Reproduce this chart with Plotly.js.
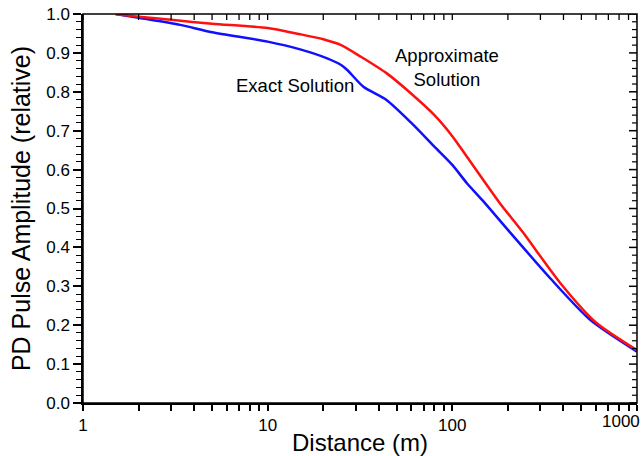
<!DOCTYPE html>
<html>
<head>
<meta charset="utf-8">
<script src="https://cdn.plot.ly/plotly-3.0.1.min.js"></script>
<style>html,body{margin:0;padding:0;background:#fff;}#chart{width:641px;height:456px;}</style>
</head>
<body>
<div id="chart"></div>
<script>
// Approximate solution (red)
var approxX = [1.5, 2, 3, 5, 10, 15, 20, 25, 32, 44, 60, 80, 100, 120, 180, 240, 385, 600, 1000];
var approxY = [1.0, 0.993, 0.985, 0.975, 0.964, 0.948, 0.935, 0.920, 0.890, 0.848, 0.795, 0.740, 0.686, 0.633, 0.515, 0.440, 0.308, 0.207, 0.136];
// Exact solution (blue)
var exactX = [1.5, 2, 3.36, 5, 10, 15, 21, 25, 27, 33, 44, 60, 80, 100, 120, 145, 200, 340, 560, 1000];
var exactY = [1.0, 0.990, 0.972, 0.953, 0.929, 0.909, 0.886, 0.869, 0.856, 0.813, 0.779, 0.720, 0.659, 0.612, 0.565, 0.522, 0.445, 0.320, 0.213, 0.132];

// x tick positions (decades labelled, intermediate values unlabelled)
var xTicks = [1,2,3,4,5,6,7,8,9,10,20,30,40,50,60,70,80,90,100,200,300,400,500,600,700,800,900,1000];
var xTickText = ['1','','','','','','','','','10','','','','','','','','','100','','','','','','','','',''];
var lastXLabel = '1000';   // drawn as annotation so it fits inside the page
// y ticks
var yMajorTicks = [0, 0.1, 0.2, 0.3, 0.4, 0.5, 0.6, 0.7, 0.8, 0.9, 1.0];
var yMinorTicks = [0.02,0.04,0.06,0.08, 0.12,0.14,0.16,0.18, 0.22,0.24,0.26,0.28, 0.32,0.34,0.36,0.38,
                   0.42,0.44,0.46,0.48, 0.52,0.54,0.56,0.58, 0.62,0.64,0.66,0.68, 0.72,0.74,0.76,0.78,
                   0.82,0.84,0.86,0.88, 0.92,0.94,0.96,0.98];

var FONT = 'Liberation Sans, Arial, Helvetica, sans-serif';

var traces = [
  {x: exactX, y: exactY, type: 'scatter', mode: 'lines', name: 'Exact Solution',
   line: {color: '#1010ff', width: 2.5, shape: 'spline', smoothing: 0.7}, hoverinfo: 'skip'},
  {x: approxX, y: approxY, type: 'scatter', mode: 'lines', name: 'Approximate Solution',
   line: {color: '#ff1010', width: 2.5, shape: 'spline', smoothing: 0.7}, hoverinfo: 'skip'}
];

// Frame (top / right edges) and inward ticks on the top and right edges
var shapes = [
  {type: 'rect', xref: 'paper', yref: 'paper', x0: 0, x1: 1, y0: 0, y1: 1,
   line: {color: '#000', width: 1.5}, layer: 'above'}
];
xTicks.forEach(function (v) {
  shapes.push({type: 'line', xref: 'x', yref: 'paper', x0: v, x1: v,
    ysizemode: 'pixel', yanchor: 1, y0: 0, y1: -6,
    line: {color: '#000', width: 1.3}, layer: 'above'});
});
yMajorTicks.forEach(function (v) {
  shapes.push({type: 'line', xref: 'paper', yref: 'y', y0: v, y1: v,
    xsizemode: 'pixel', xanchor: 1, x0: 0, x1: -8,
    line: {color: '#000', width: 1.5}, layer: 'above'});
});
yMinorTicks.forEach(function (v) {
  shapes.push({type: 'line', xref: 'paper', yref: 'y', y0: v, y1: v,
    xsizemode: 'pixel', xanchor: 1, x0: 0, x1: -5,
    line: {color: '#000', width: 1.2}, layer: 'above'});
});

var layout = {
  width: 641, height: 456,
  margin: {l: 83, r: 4, t: 14, b: 53},
  paper_bgcolor: '#fff', plot_bgcolor: '#fff',
  showlegend: false,
  font: {family: FONT, color: '#000', size: 17},
  xaxis: {
    type: 'log', range: [0, 3.0002],
    tickmode: 'array', tickvals: xTicks, ticktext: xTickText,
    showgrid: false, zeroline: false, showline: true, linecolor: '#000', linewidth: 1.5,
    ticks: 'outside', tickcolor: '#000', tickwidth: 1.5, ticklen: 6,
    tickfont: {family: FONT, size: 17, color: '#000'},
    title: {text: 'Distance (m)', font: {family: FONT, size: 24, color: '#000'}, standoff: 0}
  },
  yaxis: {
    range: [0, 1], dtick: 0.1, tick0: 0, tickformat: '.1f',
    showgrid: false, zeroline: false, showline: true, linecolor: '#000', linewidth: 1.5,
    ticks: 'outside', tickcolor: '#000', tickwidth: 1.5, ticklen: 8,
    minor: {dtick: 0.02, tick0: 0, ticks: 'outside', ticklen: 5, tickwidth: 1.2, tickcolor: '#000', showgrid: false},
    tickfont: {family: FONT, size: 17, color: '#000'},
    title: {text: 'PD Pulse Amplitude (relative)', font: {family: FONT, size: 25, color: '#000'}, standoff: 8}
  },
  shapes: shapes,
  annotations: [
    {xref: 'x', yref: 'y', x: 1.149, y: 0.815, text: 'Exact Solution', showarrow: false,
     font: {family: FONT, size: 18.5, color: '#000'}, xanchor: 'center', yanchor: 'middle'},
    {xref: 'x', yref: 'y', x: 1.973, y: 0.862, text: 'Approximate<br>Solution', showarrow: false,
     font: {family: FONT, size: 18.5, color: '#000'}, xanchor: 'center', yanchor: 'middle'},
    {xref: 'paper', yref: 'paper', x: 1, y: 0, text: lastXLabel, showarrow: false,
     font: {family: FONT, size: 17, color: '#000'}, xanchor: 'right', yanchor: 'middle',
     xshift: 5, yshift: -18}
  ]
};

Plotly.newPlot('chart', traces, layout, {displayModeBar: false});
</script>
</body>
</html>
